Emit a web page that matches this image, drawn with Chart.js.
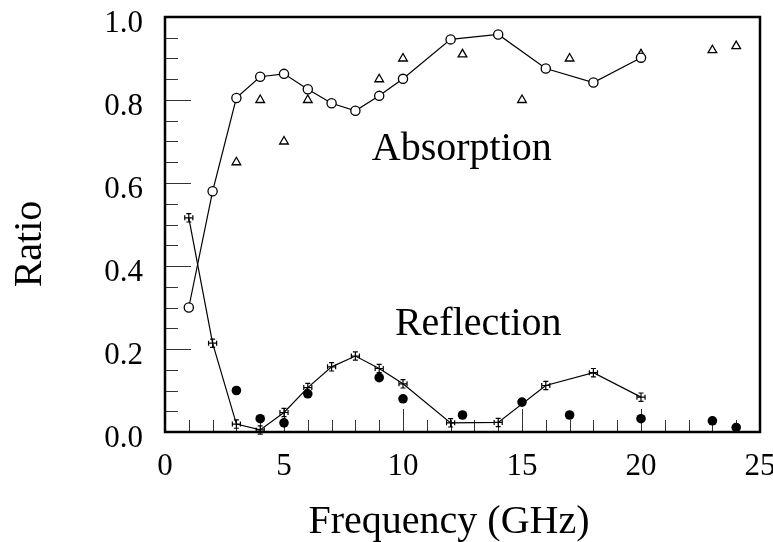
<!DOCTYPE html>
<html>
<head>
<meta charset="utf-8">
<script src="https://cdn.jsdelivr.net/npm/chart.js@4.4.1/dist/chart.umd.min.js"></script>
<style>
  html, body { margin: 0; padding: 0; background: #fff; }
  canvas { display: block; }
</style>
</head>
<body>
<canvas id="grafico" width="773" height="542"></canvas>
<script>
// datos
const freqLinea = [1, 2, 3, 4, 5, 6, 7, 8, 9, 10, 12, 14, 16, 18, 20];
const absorcion = [0.30, 0.58, 0.805, 0.856, 0.863, 0.826, 0.792, 0.774, 0.81, 0.851, 0.946, 0.958, 0.876, 0.842, 0.902];
const reflexion = [0.516, 0.214, 0.019, 0.005, 0.047, 0.107, 0.157, 0.183, 0.153, 0.116, 0.022, 0.023, 0.112, 0.143, 0.084];

const freqPuntos = [3, 4, 5, 6, 9, 10, 12.5, 15, 17, 20, 23, 24];
const absorcionTri = [0.65, 0.80, 0.70, 0.80, 0.85, 0.90, 0.91, 0.80, 0.90, 0.91, 0.92, 0.93];
const reflexionPto = [0.10, 0.032, 0.022, 0.092, 0.131, 0.080, 0.041, 0.072, 0.041, 0.032, 0.027, 0.011];

const errFreq = 0.17;   // GHz
const errRatio = 0.01;

const xTicks = [0, 5, 10, 15, 20, 25];
const xTickLabels = ["0", "5", "10", "15", "20", "25"];
const yTicks = [0, 0.2, 0.4, 0.6, 0.8, 1.0];
const yTickLabels = ["0.0", "0.2", "0.4", "0.6", "0.8", "1.0"];

const FUENTE = "'Liberation Serif', 'Times New Roman', serif";

const pts = (xs, ys) => xs.map((x, i) => ({ x: x, y: ys[i] }));

const marco = {
  id: 'marco',
  beforeDatasetsDraw(chart) {
    const { ctx, chartArea: a, scales: { x, y } } = chart;
    ctx.save();
    ctx.strokeStyle = '#333';
    ctx.lineWidth = 1;
    ctx.beginPath();
    for (let i = 1; i < 20; i++) {
      const py = Math.round(y.getPixelForValue(i * 0.05)) + 0.5;
      const len = (i % 4 === 0) ? 26 : 13;
      ctx.moveTo(a.left, py);
      ctx.lineTo(a.left + len, py);
    }
    for (let i = 1; i < 25; i++) {
      const px = Math.round(x.getPixelForValue(i)) + 0.5;
      const len = (i % 5 === 0) ? 23 : 12;
      ctx.moveTo(px, a.bottom);
      ctx.lineTo(px, a.bottom - len);
    }
    ctx.stroke();
    ctx.restore();
  },
  afterDatasetsDraw(chart) {
    const { ctx, chartArea: a, scales: { x, y } } = chart;
    ctx.save();
    // barras de error de la reflexion
    ctx.strokeStyle = '#000';
    ctx.lineWidth = 1.2;
    ctx.beginPath();
    freqLinea.forEach((f, i) => {
      const cx = x.getPixelForValue(f), cy = y.getPixelForValue(reflexion[i]);
      const x0 = x.getPixelForValue(f - errFreq), x1 = x.getPixelForValue(f + errFreq);
      const y0 = y.getPixelForValue(reflexion[i] - errRatio), y1 = y.getPixelForValue(reflexion[i] + errRatio);
      ctx.moveTo(x0, cy); ctx.lineTo(x1, cy);
      ctx.moveTo(cx, y0); ctx.lineTo(cx, y1);
      ctx.moveTo(x0, cy - 2.5); ctx.lineTo(x0, cy + 2.5);
      ctx.moveTo(x1, cy - 2.5); ctx.lineTo(x1, cy + 2.5);
      ctx.moveTo(cx - 2.5, y0); ctx.lineTo(cx + 2.5, y0);
      ctx.moveTo(cx - 2.5, y1); ctx.lineTo(cx + 2.5, y1);
    });
    ctx.stroke();

    // marco
    ctx.lineWidth = 2.5;
    ctx.strokeRect(a.left, a.top, a.right - a.left, a.bottom - a.top);

    // textos
    ctx.fillStyle = '#000';
    ctx.font = `40px ${FUENTE}`;
    ctx.textAlign = 'center';
    ctx.textBaseline = 'alphabetic';
    ctx.fillText('Absorption', x.getPixelForValue(12.47), y.getPixelForValue(0.655));
    ctx.fillText('Reflection', x.getPixelForValue(13.16), y.getPixelForValue(0.234));
    ctx.fillText('Frequency (GHz)', 449, 533);
    ctx.translate(41, 244);
    ctx.rotate(-Math.PI / 2);
    ctx.fillText('Ratio', 0, 0);
    ctx.restore();
  }
};

new Chart(document.getElementById('grafico'), {
  type: 'scatter',
  data: {
    datasets: [
      {
        label: 'Reflexion',
        data: pts(freqLinea, reflexion),
        showLine: true,
        borderColor: '#000',
        borderWidth: 1.2,
        pointRadius: 0
      },
      {
        label: 'Reflexion puntos',
        data: pts(freqPuntos, reflexionPto),
        pointStyle: 'circle',
        pointRadius: 4.8,
        backgroundColor: '#000',
        borderColor: '#000',
        borderWidth: 0
      },
      {
        label: 'Absorcion',
        data: pts(freqLinea, absorcion),
        showLine: true,
        borderColor: '#000',
        borderWidth: 1.2,
        pointStyle: 'circle',
        pointRadius: 4.6,
        pointBackgroundColor: '#fff',
        pointBorderColor: '#000',
        pointBorderWidth: 1.3
      },
      {
        label: 'Absorcion triangulos',
        data: pts(freqPuntos, absorcionTri),
        pointStyle: 'triangle',
        pointRadius: 5,
        backgroundColor: '#fff',
        borderColor: '#000',
        borderWidth: 1.3
      }
    ]
  },
  options: {
    responsive: false,
    devicePixelRatio: 1,
    animation: false,
    layout: { padding: { top: 17, right: 13, left: 0, bottom: 0 } },
    plugins: { legend: { display: false }, tooltip: { enabled: false } },
    scales: {
      x: {
        type: 'linear',
        min: 0,
        max: 25,
        grid: { display: false, drawTicks: false },
        border: { display: false },
        afterBuildTicks: s => { s.ticks = xTicks.map(v => ({ value: v })); },
        afterFit: s => { s.height = 110; s.paddingLeft = 0; s.paddingRight = 0; },
        ticks: {
          padding: 16,
          color: '#000',
          font: { family: FUENTE, size: 31 },
          maxRotation: 0,
          callback: (v, i) => xTickLabels[i]
        }
      },
      y: {
        type: 'linear',
        min: 0,
        max: 1,
        grid: { display: false, drawTicks: false },
        border: { display: false },
        afterBuildTicks: s => { s.ticks = yTicks.map(v => ({ value: v })); },
        afterFit: s => { s.width = 165; s.paddingTop = 0; s.paddingBottom = 0; },
        ticks: {
          padding: 22,
          labelOffset: 7,
          color: '#000',
          font: { family: FUENTE, size: 31 },
          callback: (v, i) => yTickLabels[i]
        }
      }
    }
  },
  plugins: [marco]
});
</script>
</body>
</html>
